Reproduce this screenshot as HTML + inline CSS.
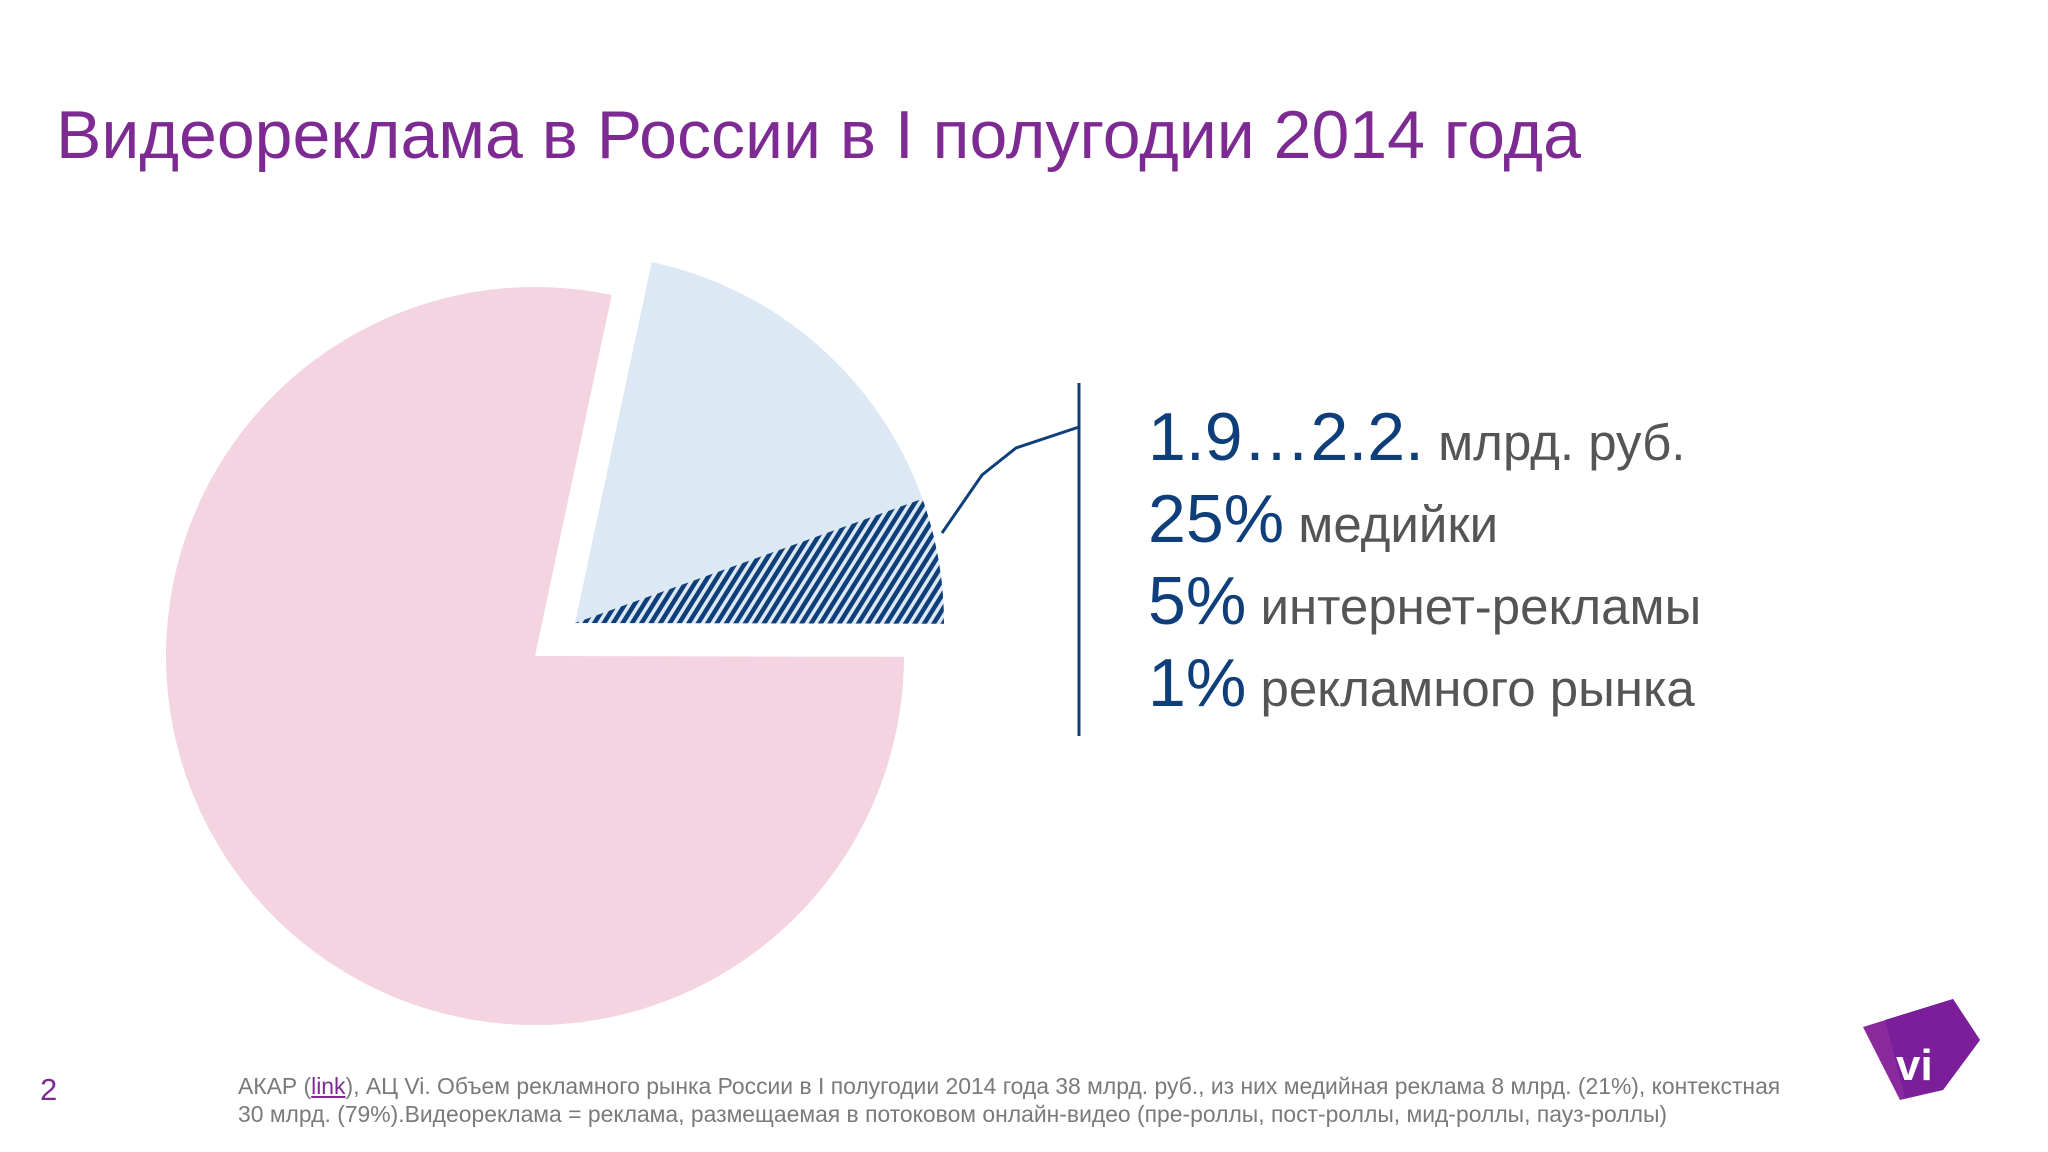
<!DOCTYPE html>
<html><head><meta charset="utf-8"><style>
body{margin:0;width:2048px;height:1152px;background:#fff;overflow:hidden;font-family:"Liberation Sans",sans-serif;position:relative}
.t{position:absolute;white-space:nowrap}
.cl{height:82px;line-height:82px;white-space:nowrap}
.cl span{font-size:68px;color:#0e3f7a;line-height:82px}
</style></head><body>
<div class="t" style="left:56px;top:96px;font-size:68px;color:#7d2b92">Видеореклама в России в I полугодии 2014 года</div>
<svg id="chart" width="2048" height="1152" style="position:absolute;left:0;top:0">
<defs><pattern id="hatch" width="8" height="8" patternUnits="userSpaceOnUse" patternTransform="rotate(32)"><rect width="8" height="8" fill="#dce8f4"/><rect width="4.5" height="8" fill="#0e3f7a"/></pattern></defs>
<g id="slices"></g>
<polyline points="942,533 982,475 1016,448 1079,427" fill="none" stroke="#0e3f7a" stroke-width="3"/>
<line x1="1079" y1="383" x2="1079" y2="736" stroke="#0e3f7a" stroke-width="3"/>
<polygon points="1863,1027 1953,999 1980,1040 1943,1090 1900,1100" fill="#8a2a9e"/>
<polygon points="1885,1020 1953,999 1980,1040 1943,1090 1905,1098" fill="#7a1f99"/>
<text x="1896" y="1080" font-family="Liberation Sans" font-weight="bold" font-size="44" fill="#fff">vi</text>
</svg>
<div style="position:absolute;left:1148px;top:396px;color:#555;font-size:51px">
<div class="cl"><span>1.9…2.2.</span> млрд. руб.</div>
<div class="cl"><span>25%</span> медийки</div>
<div class="cl"><span>5%</span> интернет-рекламы</div>
<div class="cl"><span>1%</span> рекламного рынка</div>
</div>
<div class="t" style="left:40px;top:1072px;font-size:31px;color:#7d2b92">2</div>
<div class="t" style="left:238px;top:1072px;font-size:22.9px;line-height:28px;color:#7a7a7a">АКАР (<a style="color:#7d2b92;text-decoration:underline">link</a>), АЦ Vi. Объем рекламного рынка России в I полугодии 2014 года 38 млрд. руб., из них медийная реклама 8 млрд. (21%), контекстная<br>30 млрд. (79%).Видеореклама = реклама, размещаемая в потоковом онлайн-видео (пре-роллы, пост-роллы, мид-роллы, пауз-роллы)</div>
<script>
const categories=["Медийная (прочее)","Видеореклама","Контекстная"];
const values=[16.2,5.5,78.3];
const fills=["#dce8f4","url(#hatch)","#f4d4e1"];
const offsets=[[40,-33],[40,-33],[0,0]];
const cx=535,cy=656,r=369,start=12;
const total=values.reduce((a,b)=>a+b,0);
const g=document.getElementById('slices');
function pt(x,y,deg){const a=deg*Math.PI/180;return [x+r*Math.sin(a),y-r*Math.cos(a)];}
let a=start;
values.forEach((v,i)=>{
 const sweep=v/total*360;const x=cx+offsets[i][0],y=cy+offsets[i][1];
 const p1=pt(x,y,a),p2=pt(x,y,a+sweep);
 const p=document.createElementNS('http://www.w3.org/2000/svg','path');
 p.setAttribute('d',`M${x},${y} L${p1[0]},${p1[1]} A${r},${r} 0 ${sweep>180?1:0} 1 ${p2[0]},${p2[1]} Z`);
 p.setAttribute('fill',fills[i]);
 
 
 g.appendChild(p);a+=sweep;
});
</script>
</body></html>
